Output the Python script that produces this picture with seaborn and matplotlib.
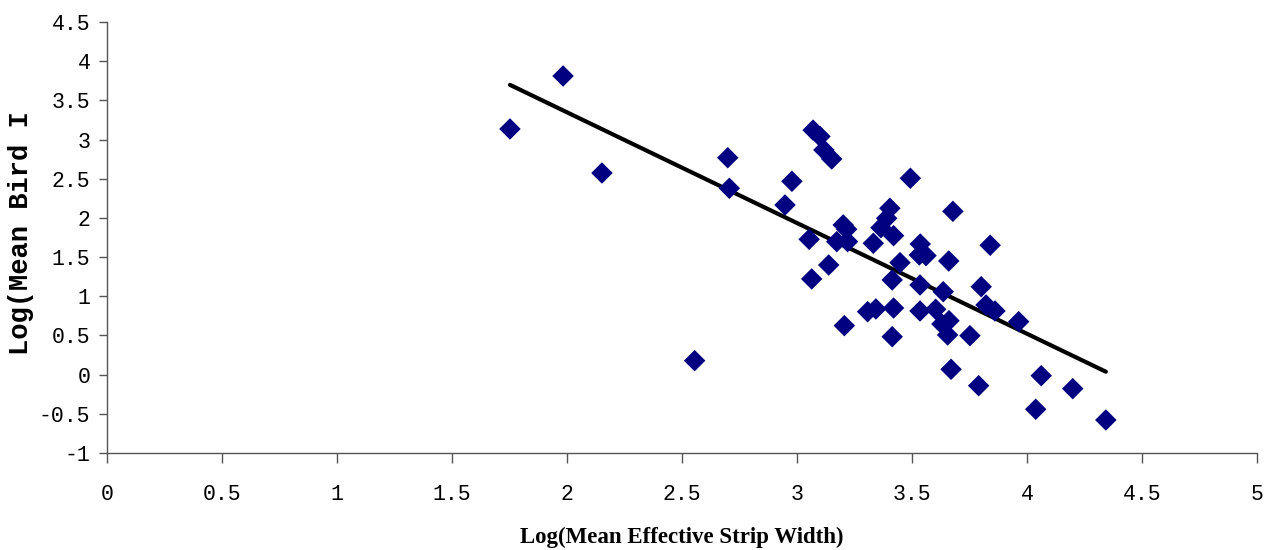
import numpy as np
import pandas as pd
import matplotlib
matplotlib.use("Agg")
import matplotlib.pyplot as plt
import seaborn as sns
from matplotlib.ticker import FuncFormatter, MultipleLocator

# log(mean effective strip width) and log(mean bird index)
strip_width = [1.752, 1.983, 2.152, 2.555, 2.699, 2.706, 2.978, 2.948, 3.070, 3.100,
               3.117, 3.151, 3.053, 3.201, 3.216, 3.173, 3.220, 3.138, 3.064, 3.206,
               3.404, 3.390, 3.365, 3.420, 3.332, 3.448, 3.414, 3.307, 3.343, 3.420,
               3.414, 3.493, 3.678, 3.840, 3.536, 3.532, 3.561, 3.660, 3.535, 3.636,
               3.801, 3.822, 3.861, 3.964, 3.535, 3.603, 3.630, 3.661, 3.655, 3.752,
               3.670, 3.790, 4.062, 4.199, 4.038, 4.343]
bird_index = [3.135, 3.811, 2.573, 0.178, 2.768, 2.378, 2.467, 2.165, 3.120, 3.040,
              2.867, 2.752, 1.727, 1.910, 1.855, 1.697, 1.697, 1.399, 1.221, 0.625,
              2.123, 1.995, 1.875, 1.773, 1.676, 1.429, 1.208, 0.803, 0.838, 0.850,
              0.484, 2.506, 2.084, 1.651, 1.667, 1.527, 1.518, 1.450, 1.144, 1.058,
              1.122, 0.889, 0.812, 0.676, 0.812, 0.834, 0.646, 0.688, 0.506, 0.497,
              0.068, -0.141, -0.014, -0.179, -0.442, -0.579]

df = pd.DataFrame({"strip": strip_width, "bird": bird_index})

sns.set_theme(style="white")
plt.rcParams["axes.unicode_minus"] = False

fig = plt.figure(figsize=(12.77, 5.5), dpi=100)
ax = fig.add_axes([0.0838, 0.1764, 0.9005, 0.7836])

sns.scatterplot(data=df, x="strip", y="bird", marker="D", s=120,
                color="#000080", edgecolor="none", ax=ax, zorder=3)
sns.regplot(data=df, x="strip", y="bird", scatter=False, ci=None,
            line_kws={"color": "black", "linewidth": 3, "solid_capstyle": "round"},
            ax=ax)

ax.set_xlim(0, 5)
ax.set_ylim(-1, 4.5)
ax.xaxis.set_major_locator(MultipleLocator(0.5))
ax.yaxis.set_major_locator(MultipleLocator(0.5))
fmt = FuncFormatter(lambda v, p: f"{v:g}")
ax.xaxis.set_major_formatter(fmt)
ax.yaxis.set_major_formatter(fmt)

for side in ["top", "right"]:
    ax.spines[side].set_visible(False)
for side in ["left", "bottom"]:
    ax.spines[side].set_color("#555555")
    ax.spines[side].set_linewidth(1)

ax.tick_params(axis="y", direction="out", length=6, width=1, color="#555555",
               left=True, pad=6)
ax.tick_params(axis="x", direction="out", length=7, width=1, color="#555555",
               bottom=True, pad=15)
for lab in ax.get_yticklabels():
    lab.set_family("Liberation Mono")
    lab.set_fontsize(15.5)
    lab.set_color("black")
for lab in ax.get_xticklabels():
    lab.set_family("Liberation Mono")
    lab.set_fontsize(15.5)
    lab.set_color("black")

ax.set_ylabel("Log(Mean Bird I", family="Liberation Mono", fontweight="bold",
              fontsize=19.5, color="black", va="center")
ax.yaxis.set_label_coords(-0.0748, 0.51)
ax.set_xlabel("Log(Mean Effective Strip Width)", family="Liberation Serif",
              fontweight="bold", fontsize=16.5, color="black", va="center")
ax.xaxis.set_label_coords(0.5, -0.197)

fig.savefig("out.png", dpi=100)
